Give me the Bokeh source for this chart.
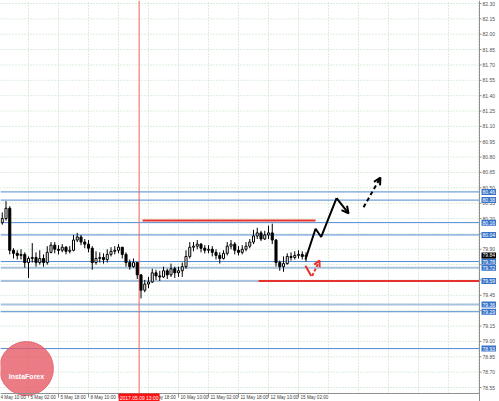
import numpy as np
from bokeh.plotting import figure
from bokeh.models import Range1d, Label, Arrow, OpenHead
from bokeh.core.properties import value
from bokeh.embed import file_html
from bokeh.resources import INLINE

# ---------------- data ----------------
# x = trading hours since 4 May 10:00 (2-hour bars)
bar_hours = list(range(2, 166, 2))
first_open = 80.16
close = [80.20, 80.30, 79.89, 79.86, 79.84, 79.85, 79.77, 79.81, 79.82, 79.77,
         79.81, 79.77, 79.87, 79.94, 79.90, 79.89, 79.92, 79.88, 79.89, 79.99,
         80.02, 79.97, 79.95, 79.91, 79.77, 79.81, 79.82, 79.80, 79.85, 79.88,
         79.89, 79.92, 79.85, 79.77, 79.73, 79.77, 79.65, 79.50, 79.56, 79.58,
         79.67, 79.64, 79.63, 79.69, 79.65, 79.71, 79.67, 79.69, 79.73, 79.83,
         79.92, 79.93, 79.95, 79.91, 79.89, 79.90, 79.87, 79.84, 79.81, 79.86,
         79.93, 79.95, 79.89, 79.87, 79.90, 79.93, 79.97, 80.03, 80.06, 80.00,
         80.04, 80.06, 79.99, 79.77, 79.73, 79.76, 79.83, 79.82, 79.84, 79.85,
         79.83, 79.84]
high = [80.26, 80.37, 80.32, 79.91, 79.89, 79.90, 79.87, 79.83, 79.96, 79.87,
        79.89, 79.85, 79.93, 79.97, 79.97, 79.94, 79.95, 79.93, 79.93, 80.04,
        80.06, 80.04, 80.00, 79.99, 79.93, 79.88, 79.87, 79.86, 79.90, 79.92,
        79.93, 79.95, 79.92, 79.87, 79.80, 79.81, 79.77, 79.64, 79.60, 79.63,
        79.71, 79.70, 79.69, 79.73, 79.71, 79.76, 79.73, 79.73, 79.77, 79.89,
        79.97, 79.97, 79.99, 79.96, 79.94, 79.94, 79.93, 79.90, 79.87, 79.89,
        79.97, 79.99, 79.97, 79.93, 79.94, 79.97, 80.00, 80.09, 80.11, 80.08,
        80.08, 80.13, 80.15, 80.00, 79.79, 79.83, 79.86, 79.87, 79.88, 79.89,
        79.88, 79.87]
low = [80.14, 80.18, 79.85, 79.81, 79.80, 79.80, 79.72, 79.62, 79.77, 79.73,
       79.75, 79.73, 79.75, 79.86, 79.86, 79.85, 79.87, 79.85, 79.86, 79.88,
       79.97, 79.94, 79.91, 79.87, 79.70, 79.75, 79.77, 79.76, 79.77, 79.83,
       79.85, 79.86, 79.81, 79.73, 79.70, 79.72, 79.61, 79.42, 79.48, 79.52,
       79.57, 79.60, 79.59, 79.62, 79.61, 79.63, 79.62, 79.63, 79.63, 79.71,
       79.81, 79.88, 79.90, 79.87, 79.86, 79.86, 79.83, 79.80, 79.76, 79.80,
       79.84, 79.90, 79.85, 79.84, 79.85, 79.88, 79.91, 79.95, 80.00, 79.98,
       79.99, 80.00, 79.95, 79.73, 79.69, 79.68, 79.75, 79.79, 79.80, 79.81,
       79.80, 79.78]
current_price = 79.84

price_ticks = [78.55, 78.70, 78.85, 79.00, 79.15, 79.30, 79.45, 79.60, 79.75,
               79.90, 80.05, 80.20, 80.35, 80.50, 80.65, 80.80, 80.95, 81.10,
               81.25, 81.40, 81.55, 81.70, 81.85, 82.00, 82.15, 82.30]
time_label_hours = [0, 16, 32, 48, 64, 80, 96, 112, 128, 144, 160]
time_labels = ["4 May 10:00", "5 May 02:00", "5 May 18:00", "8 May 10:00",
               "9 May 02:00", "9 May 18:00", "10 May 10:00", "11 May 02:00",
               "11 May 18:00", "12 May 10:00", "15 May 02:00"]
grid_hours = [16, 32, 48, 64, 80, 96, 112, 128, 144, 160, 176, 192, 208,
              224, 240, 256]

vline_hour = 75
vline_text = "2017.05.09 13:00"

level_prices = [80.46, 80.38, 80.16, 80.04, 79.78, 79.72, 79.59, 79.36, 79.29, 78.93]
level_light = [False, False, False, False, False, True, True, True, False, False]

resistance_price = 80.18
resistance_hours = [76.8, 169.1]
support_price = 79.59
support_start = 138.7

forecast_x = [163.7, 169.1, 172.1, 180.3, 186.7]
forecast_y = [79.80, 80.10, 80.02, 80.40, 80.25]
forecast2_x = [194.7, 203.7]
forecast2_y = [80.31, 80.60]
alt_x = [163.7, 166.8, 171.2]
alt_y = [79.74, 79.64, 79.79]

logo_x, logo_y = 14.9, 78.735
logo_text_y = 78.66

# ---------------- layout ----------------
W, H = 499, 401
AXIS_W, AXIS_H = 20, 8
hx = 1 / 1.875          # hours per pixel
py = 1 / 102.4          # price per pixel
x_start = 2 * hx
x_chart_end = x_start + (W - AXIS_W) * hx
x_full_end = x_chart_end + AXIS_W * hx
y_end = 82.30 + 3 * py
y_chart_start = y_end - (H - AXIS_H) * py
y_full_start = y_chart_start - AXIS_H * py

FONT = value("Liberation Sans")

p = figure(width=W, height=H, output_backend="svg", toolbar_location=None,
           x_range=Range1d(x_start, x_full_end), y_range=Range1d(y_full_start, y_end),
           x_axis_location=None, y_axis_location=None, min_border=0,
           background_fill_color="white", border_fill_color="white",
           outline_line_color=None)
p.grid.visible = False

# dotted green grid, limited to the price area
p.segment(grid_hours, [y_chart_start] * len(grid_hours), grid_hours, [y_end] * len(grid_hours),
          line_color="#bcdcbc", line_dash="1 2", line_width=1)
p.segment([x_start] * len(price_ticks), price_ticks, [x_chart_end] * len(price_ticks), price_ticks,
          line_color="#bcdcbc", line_dash="1 2", line_width=1)

# level lines
for lp, light in zip(level_prices, level_light):
    p.line([x_start, x_chart_end], [lp, lp],
           line_color="#a8c2dc" if light else "#4f8ad2",
           line_width=2 if light else 1)

# vertical time line
p.line([vline_hour, vline_hour], [y_chart_start, y_end], line_color="#f06060", line_width=1)

# red support / resistance
p.line(resistance_hours, [resistance_price, resistance_price], line_color="#e8302c", line_width=2)
p.line([support_start, x_chart_end], [support_price, support_price], line_color="#e8302c", line_width=2)

# candles
opens = [first_open] + close[:-1]
hi = np.maximum.reduce([np.array(high), np.array(opens), np.array(close)])
lo = np.minimum.reduce([np.array(low), np.array(opens), np.array(close)])
x = np.array(bar_hours)
o = np.array(opens)
c = np.array(close)
up = c >= o
p.segment(x, hi, x, lo, line_color="black", line_width=1)
p.vbar(x[up], width=1.1, top=c[up], bottom=o[up], fill_color="white", line_color="black", line_width=1)
p.vbar(x[~up], width=1.1, top=o[~up], bottom=c[~up], fill_color="black", line_color="black", line_width=1)

# forecast drawing
p.line(forecast_x[:-1], forecast_y[:-1], line_color="black", line_width=2)
p.add_layout(Arrow(end=OpenHead(size=7, line_width=2, line_color="black"),
                   x_start=forecast_x[-2], y_start=forecast_y[-2],
                   x_end=forecast_x[-1], y_end=forecast_y[-1],
                   line_color="black", line_width=2))
p.add_layout(Arrow(end=OpenHead(size=7, line_width=2, line_color="black"),
                   x_start=forecast2_x[0], y_start=forecast2_y[0],
                   x_end=forecast2_x[1], y_end=forecast2_y[1],
                   line_color="black", line_width=2, line_dash="4 3"))
p.line(alt_x[:2], alt_y[:2], line_color="#e8302c", line_width=2)
p.add_layout(Arrow(end=OpenHead(size=6, line_width=2, line_color="#e8302c"),
                   x_start=alt_x[1] + 0.5, y_start=alt_y[1],
                   x_end=alt_x[2], y_end=alt_y[2],
                   line_color="#e8302c", line_width=2, line_dash="3 2"))

# watermark logo
p.scatter([logo_x], [logo_y], marker="circle", size=54, fill_color="#e65a66",
          line_color="#e65a66", fill_alpha=0.8, line_alpha=0.8)

# frame lines: right price axis and bottom time axis
p.line([x_start, x_chart_end], [y_chart_start, y_chart_start], line_color="#909090", line_width=1)
p.line([x_chart_end, x_chart_end], [y_full_start, y_end], line_color="#909090", line_width=1)

# price tick marks and labels
p.segment([x_chart_end] * len(price_ticks), price_ticks,
          [x_chart_end + 2 * hx] * len(price_ticks), price_ticks, line_color="#909090")
p.text([x_chart_end] * len(price_ticks), price_ticks, text=[f"{v:.2f}" for v in price_ticks],
       x_offset=3, text_align="left", text_baseline="middle", text_font=FONT,
       text_font_size="5px", text_color="#505050")

# time separators and labels
p.segment(time_label_hours, [y_chart_start] * len(time_label_hours),
          time_label_hours, [y_chart_start - 4 * py] * len(time_label_hours), line_color="#909090")
label_y = y_chart_start - 4 * py
p.text(time_label_hours, [label_y] * len(time_label_hours), text=time_labels,
       x_offset=2, text_align="left", text_baseline="middle", text_font=FONT,
       text_font_size="4.6px", text_color="#404040")

# annotation boxes
p.add_layout(Label(x=logo_x, y=logo_text_y, text="InstaForex", text_align="center",
                   text_baseline="middle", text_color="white", text_font_size="7px",
                   text_font="Liberation Sans", text_font_style="bold"))
p.add_layout(Label(x=vline_hour, y=label_y, text=vline_text, text_align="center",
                   text_baseline="middle", text_font_size="5px", text_font="Liberation Sans",
                   text_color="white", background_fill_color="#ff1010", padding=1))
for lp in level_prices:
    p.add_layout(Label(x=x_chart_end, y=lp, x_offset=2, text=f"{lp:.2f}", text_align="left",
                       text_baseline="middle", text_font_size="5px", text_font="Liberation Sans",
                       text_color="white", background_fill_color="#3873c8", padding=1))
p.add_layout(Label(x=x_chart_end, y=current_price, x_offset=2, text=f"{current_price:.2f}",
                   text_align="left", text_baseline="middle", text_font_size="5px",
                   text_font="Liberation Sans", text_color="white",
                   background_fill_color="black", padding=1))

open("out.html", "w").write(file_html(p, INLINE))
